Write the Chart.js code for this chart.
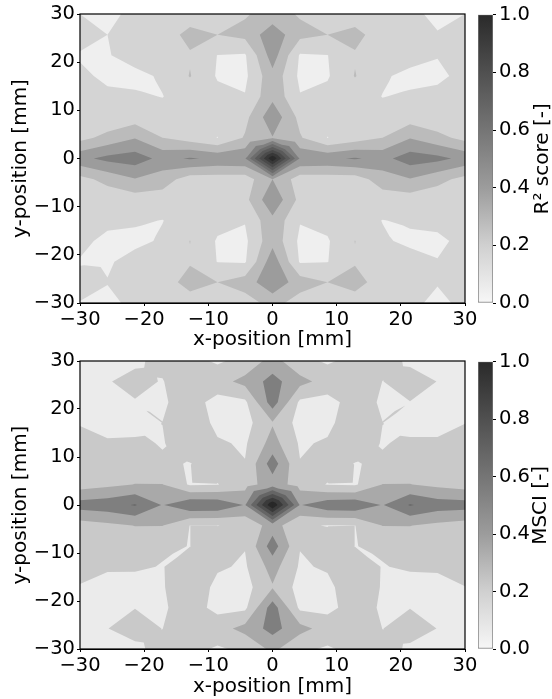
<!DOCTYPE html>
<html><head><meta charset="utf-8">
<script src="https://cdn.jsdelivr.net/npm/chart.js@4"></script>
<style>
html,body{margin:0;padding:0;background:#fff}
canvas{position:absolute;display:block}
</style></head><body>
<canvas id="c1" width="482" height="350" style="left:0;top:0"></canvas>
<canvas id="b1" width="82" height="350" style="left:470px;top:0"></canvas>
<canvas id="c2" width="482" height="350" style="left:0;top:347px"></canvas>
<canvas id="b2" width="82" height="350" style="left:470px;top:347px"></canvas>
<script>
const gridMm = [-30,-25.714,-21.429,-17.143,-12.857,-8.571,-4.286,0,4.286,8.571,12.857,17.143,21.429,25.714,30];
const gridRowsMm = [30,25.714,21.429,17.143,12.857,8.571,4.286,0,-4.286,-8.571,-12.857,-17.143,-21.429,-25.714,-30];
// R2 score x 100, rows from y=+30 down to y=-30
const r2Values = [
 [10,8,12,14,15,16,19,24,19,16,15,14,12,8,10],
 [14,10,13,15,23,20,23,36,23,20,23,15,13,10.5,13],
 [9,9.5,13,15,19,9.8,9,35,9,9.8,19,15,13,10.3,10.4],
 [12,8,8,11,20.5,9,8,27,8,9,20.5,11,8,8.5,12],
 [13,12,11,9.8,14,13,10.5,27.5,10.5,13,14,9.8,11,12,13],
 [14,13,15,13,13,13,17,37,17,13,13,13,15,13,14],
 [17,23,29.5,20,15,9.8,21,29.5,21,9.8,15,20,29.5,23,17],
 [37,43,45,37,41,38,39,99,39,38,41,37,45,43,37],
 [17,23,29.5,25,15,15,15,30,15,15,15,25,29.5,23,17],
 [14,14,15,15,13,13,17,38,17,13,13,15,15,14,14],
 [13,12,11,9.8,14,13,10.5,27.5,10.5,13,14,9.8,11,12,13],
 [12,8,8,11,20.2,9,8,27,8,9,20.2,11,8.5,8.5,12],
 [9.5,9,13,15,19,9.7,9,36,9,9.7,19,15,13,10.3,10],
 [12,10.3,13,15,24,20,25,37,25,20,24,15,13,10.5,13],
 [9.8,8,12,14,15,16,15,24,15,16,15,14,12,8,12]
];
const r2CellCentres = [[6,6,45],[7,6,45],[2,3,9],[11,3,9],[2,10,9],[11,10,9],[0,12,11]];
// MSCI x 100, rows from y=+30 down to y=-30
const msciValues = [
 [8,8,11,15,16,11,16,30,16,11,16,15,11.5,8,8],
 [7,12,15,12,20,20,29,42,29,20,20,12.4,15,12.4,8],
 [8,8,12,11,18,8,10,44,10,8,18,11,12.4,8,8],
 [11.5,8,8,12.6,22,9,8,24,8,9,22,12.6,8,8,12.2],
 [18,14,14.5,11.8,19,14,11,30,11,14,19,11.8,14.5,14.5,18],
 [17,16,16,14,12,19,13,44,13,19,12,14,16,16,17],
 [19,22,25.3,25.3,11,12,20,31,20,11.8,11,25.3,25.3,22,19],
 [43,45,51,36.8,48,47,36.8,99,36.8,46,47,36.8,51,44,43],
 [19,22,25.3,25.3,12.3,12.3,15,31,14,12,12.3,25.3,25.3,22,19],
 [17,16,16,14,12.3,19,13,44,13,19,12.3,14,16,16,17],
 [18,14.1,14,12,19,14,11,30,11,14,19,12,14,14.5,18],
 [11.5,8,8,11.5,22,9,8,24,8,9,22,11.5,8,8,12.2],
 [8,8,12.4,11,18,9,10,44,10,9,18,11,12.4,8,8],
 [8,12.4,15,12.4,20,20,29,42,29,20,20,12.4,15,12.4,8],
 [8,8,11,15,16,11,15,28,15,11,16,15,11.5,8,8]
];
const msciCellCentres = [[4,5,20],[9,5,20],[4,8,20],[9,8,20],[6,6,47],[7,6,47],[2,2,12.6],[11,2,12.7],[3,9,12],[10,9,12]];
const r2Levels = [10,20,30,40,50,60,70,80,90];
const r2Colors = ['#efefef','#d4d4d4','#bbbbbb','#9c9c9c','#7f7f7f','#6c6c6c','#5a5a5a','#4a4a4a','#383838','#2a2a2a'];
const msciLevels = [12.5,25,37.5,50,62.5,75,87.5];
const msciColors = ['#ebebeb','#c9c9c9','#a9a9a9','#7f7f7f','#656565','#4f4f4f','#3a3a3a','#282828'];
const colorbarTicks = [0,0.2,0.4,0.6,0.8,1];
const colorbarStops = [[0,'#f7f7f7'],[0.2,'#d0d0d0'],[0.4,'#9c9c9c'],[0.6,'#757575'],[0.8,'#505050'],[1,'#2a2a2a']];
const axisTicks = [-30,-20,-10,0,10,20,30];
const FONT = 'DejaVu Sans';
const TICK = 19.5, LABEL = 20;

function clipAbove(poly, L){
  const out = [];
  for(let k=0;k<poly.length;k++){
    const p = poly[k], q = poly[(k+1)%poly.length];
    const pi = p.z>=L, qi = q.z>=L;
    if(pi) out.push(p);
    if(pi!==qi){
      const t = (L-p.z)/(q.z-p.z);
      out.push({x:p.x+t*(q.x-p.x), y:p.y+t*(q.y-p.y), z:L});
    }
  }
  return out;
}
const contourPlugin = {
  id:'contour',
  beforeDatasetsDraw(chart, args, opts){
    const {ctx, chartArea:a, scales} = chart;
    const X = v=>scales.x.getPixelForValue(v), Y = v=>scales.y.getPixelForValue(v);
    const pts = chart.data.datasets[0].data;
    const nx = opts.nx, ny = pts.length/nx;
    const P = (i,j)=>pts[j*nx+i];
    const centres = {};
    opts.centres.forEach(c=>{centres[c[0]+','+c[1]] = c[2];});
    ctx.save();
    ctx.beginPath(); ctx.rect(a.left,a.top,a.right-a.left,a.bottom-a.top); ctx.clip();
    ctx.fillStyle = opts.colors[0];
    ctx.fillRect(a.left,a.top,a.right-a.left,a.bottom-a.top);
    opts.levels.forEach((L,li)=>{
      ctx.beginPath();
      const add = poly=>{
        const c = clipAbove(poly,L);
        if(c.length<3) return;
        c.forEach((p,k)=>k?ctx.lineTo(X(p.x),Y(p.y)):ctx.moveTo(X(p.x),Y(p.y)));
        ctx.closePath();
      };
      for(let j=0;j<ny-1;j++) for(let i=0;i<nx-1;i++){
        const q = [P(i,j),P(i+1,j),P(i+1,j+1),P(i,j+1)];
        const s = q.map(p=>p.z>=L);
        const own = centres[i+','+j];
        const saddle = s[0]===s[2] && s[1]===s[3] && s[0]!==s[1];
        if(own!==undefined || saddle){
          const m = {x:(q[0].x+q[2].x)/2, y:(q[0].y+q[2].y)/2,
                     z: own!==undefined ? own : (q[0].z+q[1].z+q[2].z+q[3].z)/4};
          for(let k=0;k<4;k++) add([q[k],q[(k+1)%4],m]);
        } else add(q);
      }
      ctx.fillStyle = opts.colors[li+1];
      ctx.fill('nonzero');
    });
    ctx.restore();
  },
  afterDraw(chart){
    const {ctx, chartArea:a} = chart;
    ctx.save(); ctx.strokeStyle='#000'; ctx.lineWidth=1.2;
    ctx.strokeRect(a.left,a.top,a.right-a.left,a.bottom-a.top);
    ctx.restore();
  }
};
const barTitlePlugin = {
  id:'barTitle',
  afterDraw(chart, args, opts){
    const {ctx, chartArea:a} = chart;
    ctx.save();
    ctx.translate(opts.x,(a.top+a.bottom)/2);
    ctx.rotate(-Math.PI/2);
    ctx.font = LABEL+'px "'+FONT+'"';
    ctx.fillStyle='#000'; ctx.textAlign='center'; ctx.textBaseline='middle';
    ctx.fillText(opts.text,0,0);
    ctx.restore();
  }
};
const fmt = v=>String(v).replace('-','\u2212');
function axis(title, size, fit, titlePad){
  return {
    type:'linear', min:-30, max:30,
    afterBuildTicks(s){ s.ticks = axisTicks.map(v=>({value:v})); },
    afterFit(s){ fit(s,size); },
    ticks:{color:'#000', font:{family:FONT,size:TICK}, padding:2, maxRotation:0, autoSkip:false, callback:fmt},
    grid:{drawOnChartArea:false, drawTicks:true, tickLength:3, color:'#000', lineWidth:1},
    border:{display:true,color:'#000',width:1},
    title:{display:true,text:title,color:'#000',font:{family:FONT,size:LABEL},padding:titlePad}
  };
}
function contour(id, rows, centres, levels, colors, top, h){
  const data = [];
  gridRowsMm.forEach((y,j)=>gridMm.forEach((x,i)=>data.push({x,y,z:rows[j][i]})));
  new Chart(document.getElementById(id),{
    type:'scatter',
    data:{datasets:[{data,pointRadius:0,pointHoverRadius:0,showLine:false}]},
    plugins:[contourPlugin],
    options:{
      responsive:false, animation:false,
      layout:{padding:{top,right:17,bottom:0,left:0}},
      plugins:{legend:{display:false},tooltip:{enabled:false},
        contour:{levels,colors,centres,nx:gridMm.length}},
      scales:{
        x:axis('x-position [mm]',350-top-h,(s,v)=>{s.height=v;},{top:0,bottom:-2}),
        y:axis('y-position [mm]',80,(s,v)=>{s.width=v;},{top:9,bottom:0})
      }
    }
  });
}
function colorbar(id, title, titleX, top, h){
  new Chart(document.getElementById(id),{
    type:'bar',
    data:{labels:[''],datasets:[{
      data:[[0,1]],
      backgroundColor(c){
        const a = c.chart.chartArea;
        if(!a) return '#888';
        const g = c.chart.ctx.createLinearGradient(0,a.bottom,0,a.top);
        colorbarStops.forEach(s=>g.addColorStop(s[0],s[1]));
        return g;
      },
      borderColor:'#7a7a7a',borderWidth:1,borderSkipped:false,
      barPercentage:1,categoryPercentage:1
    }]},
    plugins:[barTitlePlugin],
    options:{
      responsive:false, animation:false,
      layout:{padding:{top,right:0,bottom:350-top-h,left:8}},
      plugins:{legend:{display:false},tooltip:{enabled:false},barTitle:{text:title,x:titleX}},
      scales:{
        x:{display:false},
        y:{
          position:'right', min:0, max:1,
          afterBuildTicks(s){ s.ticks = colorbarTicks.map(v=>({value:v})); },
          afterFit(s){ s.width=59; },
          ticks:{color:'#000',font:{family:FONT,size:TICK},padding:3,callback:v=>v.toFixed(1)},
          grid:{drawOnChartArea:false,drawTicks:true,tickLength:3,color:'#000'},
          border:{display:false}
        }
      }
    }
  });
}
contour('c1',r2Values,r2CellCentres,r2Levels,r2Colors,14,289);
colorbar('b1','R\u00b2 score [-]',73,14,289);
contour('c2',msciValues,msciCellCentres,msciLevels,msciColors,14,288);
colorbar('b2','MSCI [-]',71,14,288);
</script>
</body></html>
